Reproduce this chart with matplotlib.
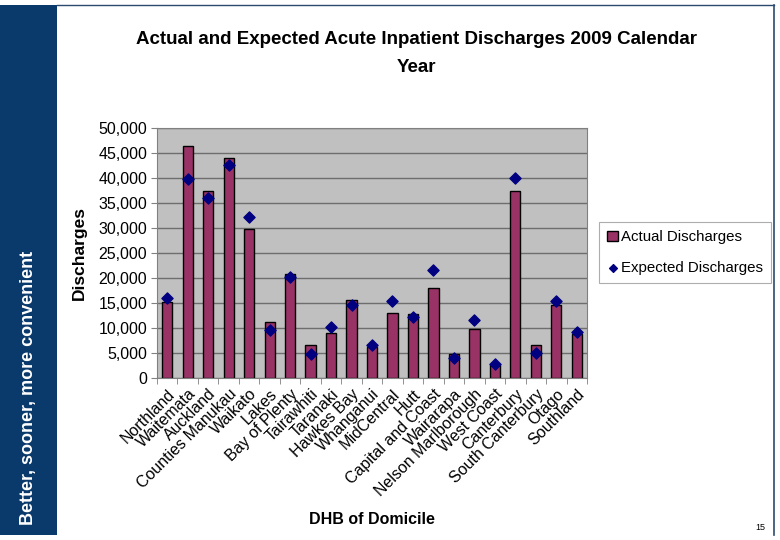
import matplotlib
matplotlib.use("Agg")
import matplotlib.pyplot as plt
from matplotlib.patches import Rectangle
from matplotlib.lines import Line2D
from matplotlib.ticker import FuncFormatter, MultipleLocator
import numpy as np

plt.rcParams['font.family'] = ['Liberation Sans', 'DejaVu Sans']

# DHB names and discharge counts
dhbs = ["Northland", "Waitemata", "Auckland", "Counties Manukau", "Waikato",
        "Lakes", "Bay of Plenty", "Tairawhiti", "Taranaki", "Hawkes Bay",
        "Whanganui", "MidCentral", "Hutt", "Capital and Coast", "Wairarapa",
        "Nelson Marlborough", "West Coast", "Canterbury", "South Canterbury",
        "Otago", "Southland"]
actual = [15300, 46400, 37500, 44100, 29900, 11300, 20900, 6600, 9100, 15600,
          6300, 13100, 12800, 18100, 4900, 9900, 2600, 37500, 6600, 14700, 8900]
expected = [16100, 39900, 36100, 42700, 32300, 9600, 20300, 4800, 10200, 14700,
            6600, 15500, 12200, 21700, 4000, 11600, 2900, 40000, 5100, 15500, 9200]

bar_col = "#993366"
dot_col = "#000080"
navy = "#0a3a6b"

fig = plt.figure(figsize=(7.8, 5.4), dpi=100)

# slide frame: navy band on the left, thin lines on top and right
fig.patches.append(Rectangle((0, 5/540), 57/780, 530/540, transform=fig.transFigure,
                             facecolor=navy, edgecolor="none"))
fig.lines.append(Line2D([57/780, 774/780], [1 - 5/540, 1 - 5/540], transform=fig.transFigure,
                        color="#2b4a6e", lw=1))
fig.lines.append(Line2D([774/780, 774/780], [1 - 5/540, 1 - 535/540], transform=fig.transFigure,
                        color="#2b4a6e", lw=1.2))
fig.text(29/780, 1 - 388/540, "Better, sooner, more convenient", rotation=90,
         color="white", fontsize=13, fontweight="bold", ha="center", va="center")
fig.text(760/780, 1 - 528/540, "15", fontsize=6.5, ha="center", va="center")

fig.text(416/780, 1 - 40/540, "Actual and Expected Acute Inpatient Discharges 2009 Calendar",
         fontsize=13.5, fontweight="bold", ha="center", va="center")
fig.text(416/780, 1 - 68/540, "Year", fontsize=13.5, fontweight="bold",
         ha="center", va="center")

ax = fig.add_axes([157/780, 162/540, 430/780, 250/540])
ax.set_facecolor("#c0c0c0")
x = np.arange(len(dhbs))
bars = ax.bar(x, actual, width=0.5, color=bar_col, edgecolor="black", linewidth=1,
              zorder=2)
dots = ax.scatter(x, expected, marker="D", s=32, color=dot_col, zorder=3)

ax.set_xlim(-0.5, len(dhbs) - 0.5)
ax.set_ylim(0, 50000)
ax.yaxis.set_major_locator(MultipleLocator(5000))
ax.yaxis.set_major_formatter(FuncFormatter(lambda v, p: f"{int(v):,}"))
ax.grid(axis="y", color="#6e6e6e", lw=1, zorder=1)
ax.set_axisbelow(True)

ax.set_xticks(x)
ax.set_xticklabels(dhbs, rotation=45, ha="right", rotation_mode="anchor", fontsize=11.5)
ax.tick_params(axis="x", length=0, pad=6)
ax.set_xticks(np.arange(-0.5, len(dhbs)), minor=True)
ax.tick_params(axis="x", which="minor", length=4, color="#808080")
ax.tick_params(axis="y", labelsize=11.5, length=4, color="#808080", pad=3)

for s in ["top", "right", "left", "bottom"]:
    ax.spines[s].set_color("#808080")

ax.set_ylabel("Discharges", fontsize=12.5, fontweight="bold", labelpad=8)
fig.text(372/780, 1 - 519/540, "DHB of Domicile", fontsize=11.5, fontweight="bold",
         ha="center", va="center")

leg = ax.legend([bars, dots], ["Actual Discharges", "Expected Discharges"],
                loc="upper left", bbox_to_anchor=(599/780, 1 - 222/540),
                bbox_transform=fig.transFigure, borderaxespad=0, frameon=True,
                fancybox=False, fontsize=10.8, handlelength=0.7, handletextpad=0.2,
                borderpad=0.55, labelspacing=1.1, markerscale=0.7)
leg.get_frame().set_edgecolor("#999999")
leg.get_frame().set_linewidth(0.8)

fig.savefig("out.png", dpi=100)
